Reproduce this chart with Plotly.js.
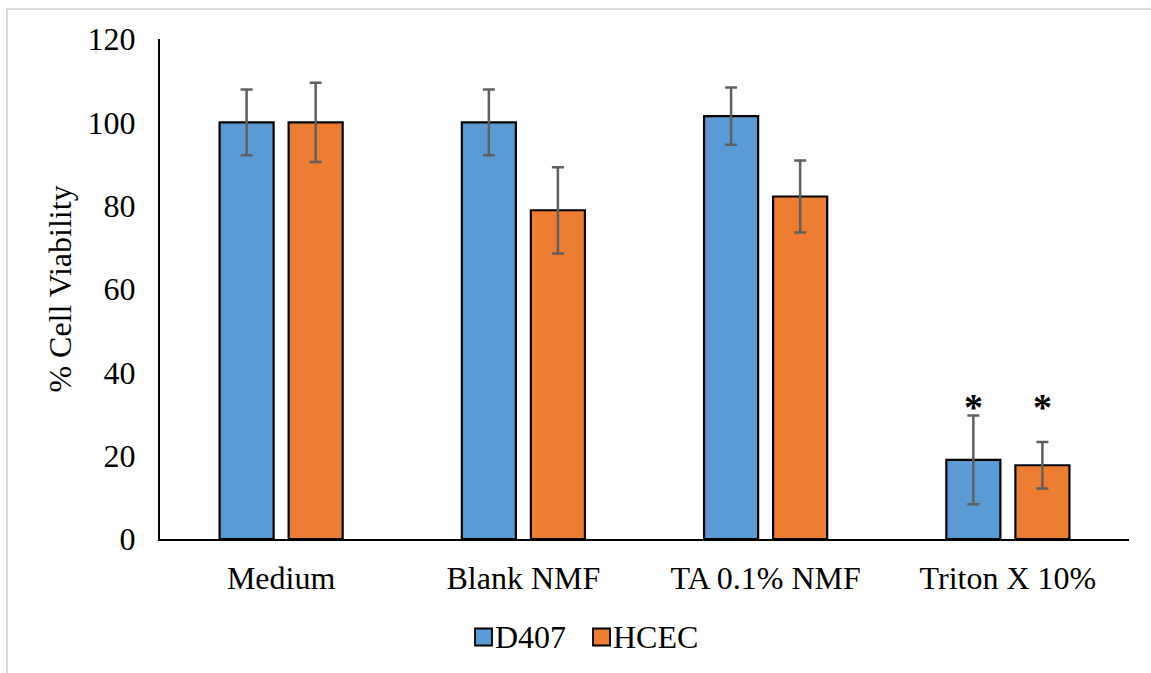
<!DOCTYPE html>
<html>
<head>
<meta charset="utf-8">
<script src="https://cdn.plot.ly/plotly-3.0.1.min.js"></script>
<style>
  html, body { margin: 0; padding: 0; background: #ffffff; }
  #chart { width: 1151px; height: 673px; }
</style>
</head>
<body>
<div id="chart"></div>
<script>
// Cell viability per treatment, mean ± SD
const categories = ['Medium', 'Blank NMF', 'TA 0.1% NMF', 'Triton X 10%'];
const seriesNames = ['D407', 'HCEC'];
const seriesColors = ['#5B9BD5', '#ED7D31'];
const d407Values = [100, 100, 101.5, 19.0];
const d407Errors = [7.9, 7.9, 6.85, 10.65];
const hcecValues = [100, 78.9, 82.2, 17.7];
const hcecErrors = [9.5, 10.35, 8.65, 5.6];
// categories carrying a significance marker
const significantD407 = ['Triton X 10%'];
const significantHCEC = ['Triton X 10%'];
const yTicks = [0, 20, 40, 60, 80, 100, 120];

const W = 1151, H = 673;
const M = { l: 160, r: 22, t: 39, b: 134 };
const plotW = W - M.l - M.r, plotH = H - M.t - M.b;
const BAR_GAP = 0.43;
const FONT = 'Liberation Serif';
const FS = 32;
const TXT = '#000000';

function barTrace(name, values, errors, color) {
  return {
    type: 'bar',
    name: name,
    x: categories,
    y: values,
    marker: { color: color, line: { color: '#000000', width: 2.2 } },
    error_y: { type: 'data', array: errors, visible: true,
               color: '#5f5f5f', thickness: 2.5, width: 6 },
    hoverinfo: 'x+y+name'
  };
}

const traces = [
  barTrace(seriesNames[0], d407Values, d407Errors, seriesColors[0]),
  barTrace(seriesNames[1], hcecValues, hcecErrors, seriesColors[1])
];

// asterisks sit above the taller error bar of each marked group
const slotOffset = (1 - BAR_GAP) / 4;
const annotations = [];
function addStars(list, sign) {
  list.forEach(cat => {
    const i = categories.indexOf(cat);
    const top = Math.max(d407Values[i] + d407Errors[i], hcecValues[i] + hcecErrors[i]);
    annotations.push({
      x: i + sign * slotOffset, y: top, xref: 'x', yref: 'y',
      text: '<b>*</b>', showarrow: false, yanchor: 'bottom', yshift: -15,
      font: { family: FONT, size: 38, color: TXT }
    });
  });
}
addStars(significantD407, -1);
addStars(significantHCEC, 1);

const px2x = p => (p - M.l) / plotW;
const px2y = p => (H - M.b - p) / plotH;

// legend row below the axis: swatch + series name
const legendSwatchX = [475, 593];
const legendY = 637;
const SW = 17;
const shapes = [{
  // light frame around the chart area
  type: 'rect', xref: 'paper', yref: 'paper',
  x0: px2x(7), x1: px2x(W + 20), y0: px2y(H + 20), y1: px2y(9),
  line: { color: '#d9d9d9', width: 2 }, fillcolor: 'rgba(0,0,0,0)', layer: 'below'
}];
seriesNames.forEach((name, k) => {
  const x0 = legendSwatchX[k];
  shapes.push({
    type: 'rect', xref: 'paper', yref: 'paper',
    x0: px2x(x0), x1: px2x(x0 + SW),
    y0: px2y(legendY + SW / 2), y1: px2y(legendY - SW / 2),
    line: { color: '#000000', width: 1.8 }, fillcolor: seriesColors[k]
  });
  annotations.push({
    x: px2x(x0 + SW + 1), y: px2y(legendY), xref: 'paper', yref: 'paper',
    xanchor: 'left', yanchor: 'middle', showarrow: false,
    text: name, font: { family: FONT, size: FS, color: TXT }
  });
});

const layout = {
  width: W, height: H,
  margin: M,
  paper_bgcolor: '#ffffff', plot_bgcolor: '#ffffff',
  font: { family: FONT, size: FS, color: TXT },
  barmode: 'group',
  bargap: BAR_GAP,
  bargroupgap: 0.217,
  showlegend: false,
  xaxis: {
    type: 'category',
    showline: true, linecolor: '#000000', linewidth: 2,
    ticks: '', showgrid: false, zeroline: false,
    ticklabelstandoff: 10,
    tickfont: { family: FONT, size: FS, color: TXT },
    fixedrange: true
  },
  yaxis: {
    range: [0, 120], tickvals: yTicks, ticktext: yTicks.map(String),
    showline: true, linecolor: '#000000', linewidth: 2,
    ticks: '', showgrid: false, zeroline: false,
    ticklabelstandoff: 16,
    tickfont: { family: FONT, size: FS, color: TXT },
    title: { text: '% Cell Viability', standoff: 6,
             font: { family: FONT, size: FS, color: TXT } },
    automargin: false,
    fixedrange: true
  },
  annotations: annotations,
  shapes: shapes
};

Plotly.newPlot('chart', traces, layout, { displayModeBar: false, staticPlot: true });
</script>
</body>
</html>
